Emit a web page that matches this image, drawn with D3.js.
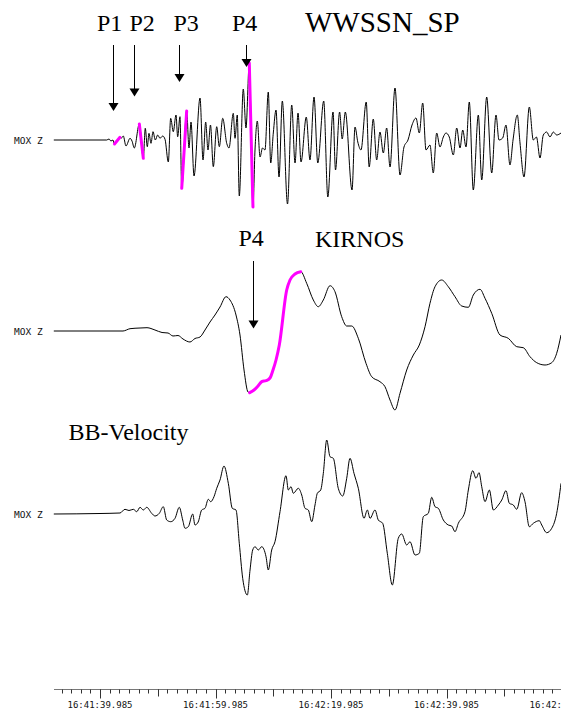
<!DOCTYPE html>
<html><head><meta charset="utf-8">
<script src="https://cdn.jsdelivr.net/npm/d3@7"></script>
<style>body{margin:0;background:#fff}svg{display:block}</style>
</head><body>
<script>
// Time in seconds after 16:41:39.985, amplitude in display counts.
const wwssnTime = [-8.00,1.16,1.56,1.90,2.25,2.51,3.46,3.72,4.03,4.50,5.20,5.54,5.94,6.81,7.50,7.84,8.19,8.48,8.83,9.18,9.58,9.99,10.39,10.86,11.26,11.83,12.24,12.69,13.16,13.45,13.85,14.15,15.01,15.41,15.76,16.28,17.32,17.84,18.30,18.70,19.13,19.62,20.21,20.66,21.25,21.94,22.34,23.08,23.38,23.77,24.12,24.81,25.28,25.85,26.49,26.84,27.24,27.71,28.14,28.57,29.14,29.56,30.01,30.48,31.00,31.57,32.47,33.20,33.77,34.29,34.81,35.72,36.36,37.06,37.71,38.74,39.45,40.35,40.78,41.49,41.94,42.48,43.64,44.16,44.64,45.19,46.10,46.61,47.32,47.91,48.48,49.06,49.64,50.22,51.08,51.95,52.64,53.33,54.03,54.72,55.29,55.88,56.45,57.14,57.71,58.30,58.87,59.45,59.91,60.48,61.18,61.77,62.34,62.81,63.38,63.95,64.64,65.51,66.10,66.96,67.83,68.57,69.09,69.73,70.30,70.99,71.52,72.26,72.73,73.42,74.34,75.03,75.58,76.19,76.76,77.35,77.92,78.49,79.08,79.83];
const wwssnAmp = [0,0,1,-1,0,-4,2.7,2,4,-6,1.7,-1,-8,16,-18.3,11.7,-6.7,6.7,-3.3,8.3,0,5,1.7,4,0.7,-22,21.7,8.3,25,3.3,23.3,-48.3,29,-8,18,-36,42,-20,18,-10,15,-26.7,13.3,-6.7,21.7,-3.3,-8,26.7,1.7,25,-56,51,12,77,-67,-10,19,-17,-8,-10,48,-23,7,30,-37,39,-64,35,-23,27,-22,23,-20,43,-23,39,-57,28,-30,28,1,28,-50,13,-2,-10,38,-27,21,-20,8,-13,12,-27,52,-35,-7,0,15,22,7,37,-10,-5,-33,7,-7,3,7,3,-15,12,-8,10,-7,38,-50,25,-40,43,-33,25,0,2,15,-25,0,25,-3,-37,33,0,3,-18,5,8,3,8,5,7];

const kirnosTime = [-8.00,3.98,5.20,6.93,8.14,9.52,10.74,11.78,12.64,13.51,14.37,15.58,16.45,17.32,18.18,19.05,19.91,20.78,21.82,22.51,23.55,24.24,24.94,25.63,25.92,26.67,27.36,28.05,28.75,29.44,29.96,30.48,31.05,32.33,32.90,33.77,34.76,35.79,36.94,37.80,38.67,39.83,40.69,41.85,42.72,43.59,44.73,46.06,47.05,48.48,49.35,50.22,51.08,51.95,53.11,54.26,55.29,56.28,57.14,58.01,59.17,60.31,61.47,62.63,63.78,64.64,65.80,66.67,67.83,69.26,70.70,72.16,73.30,74.46,75.62,77.06,78.22,79.08,79.83];
const kirnosAmp = [0,0,2.3,3,3.3,1,-1.5,-2,-5,-4.5,-8,-11,-7.5,-6,1,9,16,24,34.3,31,16,-4,-39,-61,-61.7,-59,-55,-50.5,-49.7,-47,-39,-29,-14,41,51,57,59.3,47.7,31,24.3,31,45.3,39.3,14.3,5,5,-7.3,-32.3,-45.7,-50.7,-55.7,-69,-79,-62.3,-39,-24,-14,4.3,27.7,44.3,51,44.3,34.3,25,23.7,36,41.7,32.7,17.7,-4,-7.3,-15.7,-16.7,-25.7,-31.7,-34,-31.7,-22.3,-4];

const bbTime = [-8.00,0.00,3.46,4.33,5.02,5.77,6.36,6.93,7.50,8.09,8.95,9.52,10.27,10.96,11.55,12.24,12.99,13.73,14.32,14.72,15.29,16.05,16.45,17.00,17.61,18.18,18.75,19.17,19.74,20.21,20.78,21.47,22.22,22.91,23.55,24.12,24.71,25.51,25.98,26.44,26.84,27.41,28.00,28.75,29.14,29.73,30.30,31.17,32.21,32.61,33.08,33.47,34.34,34.93,35.50,36.07,36.66,37.23,37.63,38.22,38.67,39.26,39.83,40.40,41.26,42.03,42.72,43.29,43.98,44.73,45.72,46.29,46.76,47.62,48.19,48.95,49.75,50.62,51.65,52.24,53.11,53.68,54.55,55.29,55.98,56.85,57.44,58.01,58.58,59.45,60.31,60.90,61.47,62.05,63.20,63.78,64.54,65.11,65.63,66.10,66.67,67.42,68.11,68.98,69.57,70.30,70.88,71.57,72.16,73.02,73.59,74.34,75.03,76.07,76.49,77.35,78.22,79.08,79.83];
const bbAmp = [0,0.5,1,4.7,3.5,4.7,2.3,6.7,4,6.7,0.7,-2,0.7,7.3,-6,-7.7,-4.3,6.7,-6,-14.3,-12.7,0,-11,-8,4,5.7,14.7,12.3,17.3,25.7,34,48,30.7,5.7,4,-29.3,-64.3,-81,-56,-36,-32.7,-36,-32.7,-42.7,-56,-36,-27.7,2.3,38.3,24,27.3,20.7,25.7,19,5.7,4,-7.7,9,20.7,24,40.7,74,57.3,55.7,25.7,18,35.7,55.7,40.7,25.7,-4.3,4,-4.3,4,-6,-9.3,-39.3,-71,-24.3,-20,-31,-27.7,-41,-39.3,-2.7,0.7,16.7,7.3,5.7,-6,-11,-12,-17.7,-9.3,2.3,24,43.3,35.7,41.3,27.3,12.3,24,4,9,14,23.3,10.7,9,4.7,21.3,12.3,-12.7,-9.3,-6.7,-11,-18.7,-14.3,0.7,30.7];

// Picked phase windows (start, end seconds) highlighted on the traces
const wwssnPicks = [[2.51,3.46],[6.81,7.50],[14.15,15.01],[25.85,26.49]];
const kirnosPicks = [[25.92,34.76]];

// Phase arrows
const wwssnPhases = ["P1","P2","P3","P4"];
const wwssnPhaseTimes = [2.20,5.94,13.73,25.28];
const kirnosPhases = ["P4"];
const kirnosPhaseTimes = [26.55];

const channelName = "MOX Z";
const traceTitles = ["WWSSN_SP","KIRNOS","BB-Velocity"];

// Time axis
const labelSeconds = [0,20,40,60,80];
const labelTexts = ["16:41:39.985","16:41:59.985","16:42:19.985","16:42:39.985","16:42:59.985"];
const midSeconds = [-10,10,30,50,70];

const W = 561, H = 713;
const svg = d3.select("body").append("svg").attr("width", W).attr("height", H);

const x = d3.scaleLinear().domain([-8, 80]).range([53.8, 562]);

const traces = [
  {time: wwssnTime, amp: wwssnAmp, base: 140, picks: wwssnPicks},
  {time: kirnosTime, amp: kirnosAmp, base: 331, picks: kirnosPicks},
  {time: bbTime, amp: bbAmp, base: 514, picks: []}
];

const plot = svg.append("g");
svg.append("defs").append("clipPath").attr("id","clip")
  .append("rect").attr("x", 0).attr("y", 0).attr("width", W).attr("height", H);

traces.forEach(tr => {
  const y = d3.scaleLinear().domain([-100, 100]).range([tr.base + 100, tr.base - 100]);
  const pts = tr.time.map((t, i) => [t, tr.amp[i]]);
  const line = d3.line().x(d => x(d[0])).y(d => y(d[1])).curve(d3.curveMonotoneX);
  plot.append("path").attr("d", line(pts))
    .attr("fill", "none").attr("stroke", "#000").attr("stroke-width", 1)
    .attr("clip-path", "url(#clip)");
  tr.picks.forEach(([t0, t1]) => {
    const seg = pts.filter(d => d[0] >= t0 - 1e-6 && d[0] <= t1 + 1e-6);
    plot.append("path").attr("d", line(seg))
      .attr("fill", "none").attr("stroke", "#ff00ff").attr("stroke-width", 3)
      .attr("stroke-linecap", "round").attr("stroke-linejoin", "round");
  });
  svg.append("text").attr("x", 14).attr("y", tr.base + 4)
    .attr("font-family", "DejaVu Sans Mono").attr("font-size", 9.5).attr("fill", "#111")
    .text(channelName);
});

// Arrows
function arrow(xp, y0, y1) {
  svg.append("line").attr("x1", xp).attr("x2", xp).attr("y1", y0).attr("y2", y1 - 6)
    .attr("stroke", "#000").attr("stroke-width", 1);
  svg.append("path").attr("d", `M${xp - 5},${y1 - 8}L${xp + 5},${y1 - 8}L${xp},${y1}Z`).attr("fill", "#000");
}
const serif = "Liberation Serif, Times New Roman, serif";
const wwssnLabelX = [97, 129.5, 173.5, 232];
const wwssnTipY = [111, 96.5, 82, 67];
wwssnPhases.forEach((p, i) => {
  svg.append("text").attr("x", wwssnLabelX[i]).attr("y", 30.5)
    .attr("font-family", serif).attr("font-size", 24).text(p);
  arrow(Math.round(x(wwssnPhaseTimes[i])) + 0.5, 45, wwssnTipY[i]);
});
kirnosPhases.forEach((p, i) => {
  svg.append("text").attr("x", 238.5).attr("y", 246)
    .attr("font-family", serif).attr("font-size", 24).text(p);
  arrow(Math.round(x(kirnosPhaseTimes[i])) + 0.5, 261, 328.5);
});
svg.append("text").attr("x", 305).attr("y", 31.5).attr("font-family", serif).attr("font-size", 29).text(traceTitles[0]);
svg.append("text").attr("x", 315).attr("y", 246.5).attr("font-family", serif).attr("font-size", 24).text(traceTitles[1]);
svg.append("text").attr("x", 68.5).attr("y", 440).attr("font-family", serif).attr("font-size", 24).text(traceTitles[2]);

// Time axis
const axisY = 689.5;
const ax = svg.append("g");
ax.append("line").attr("x1", 54).attr("x2", W).attr("y1", axisY).attr("y2", axisY)
  .attr("stroke", "#777").attr("stroke-width", 1);
const minor = d3.range(-4, 49).map(i => i * 10 / 6).filter(t => x(t) > 56 && x(t) < W);
ax.selectAll("line.minor").data(minor).join("line").attr("class", "minor")
  .attr("x1", d => Math.round(x(d)) + 0.5).attr("x2", d => Math.round(x(d)) + 0.5)
  .attr("y1", axisY).attr("y2", axisY + 4).attr("stroke", "#333");
ax.selectAll("line.mid").data(midSeconds.filter(t => x(t) > 56)).join("line").attr("class", "mid")
  .attr("x1", d => Math.round(x(d)) + 0.5).attr("x2", d => Math.round(x(d)) + 0.5)
  .attr("y1", axisY).attr("y2", axisY + 7).attr("stroke", "#333");
ax.selectAll("line.major").data(labelSeconds).join("line").attr("class", "major")
  .attr("x1", d => Math.round(x(d)) + 0.5).attr("x2", d => Math.round(x(d)) + 0.5)
  .attr("y1", axisY).attr("y2", axisY + 9).attr("stroke", "#333");
ax.selectAll("text").data(labelSeconds).join("text")
  .attr("x", d => x(d)).attr("y", 708).attr("text-anchor", "middle")
  .attr("font-family", "DejaVu Sans Mono").attr("font-size", 9).attr("fill", "#111")
  .text((d, i) => labelTexts[i]);
</script>
</body></html>
